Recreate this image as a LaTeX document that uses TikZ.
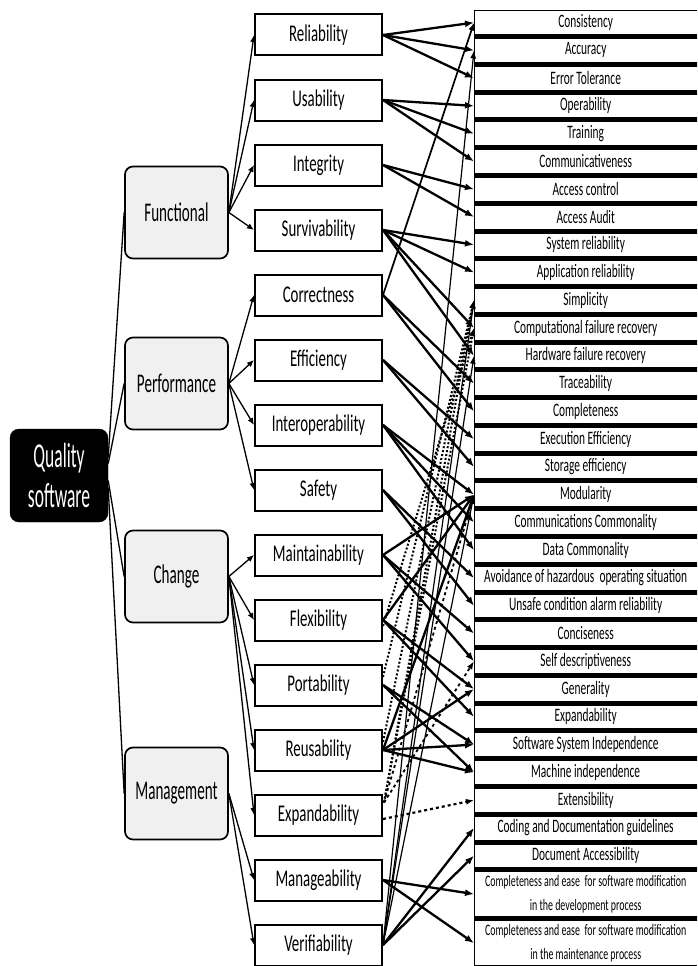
\documentclass[tikz,border=0pt]{standalone}
\usepackage{fontspec}
\setmainfont{Carlito}
\newfontfamily\critfont[FakeStretch=0.6]{Carlito}
\newfontfamily\twofont[FakeStretch=0.62]{Carlito}
\newfontfamily\facfont[FakeStretch=0.62]{Carlito}
\newfontfamily\catfont[FakeStretch=0.56]{Carlito}
\newfontfamily\qsfont[FakeStretch=0.5]{Carlito}
\usetikzlibrary{arrows.meta}

\tikzset{
  qsbox/.style={draw=black, fill=black, text=white, rounded corners=9pt,
    minimum width=98pt, minimum height=93pt, align=center,
    font=\qsfont\fontsize{35}{40}\selectfont},
  catbox/.style={draw=black, line width=1.7pt, fill=black!6, rounded corners=8pt,
    minimum width=103pt, minimum height=92pt,
    font=\catfont\fontsize{27}{29}\selectfont},
  facbox/.style={draw=black, line width=2pt, fill=white,
    minimum width=127pt, minimum height=41pt,
    font=\facfont\fontsize{24}{26}\selectfont},
  critcell/.style={anchor=north west, minimum width=223pt, inner sep=0pt,
    align=center, font=\critfont\fontsize{19}{20}\selectfont},
  twoline/.style={font=\twofont\fontsize{16}{24}\selectfont},
  link/.style={line width=1.3pt},
  feed/.style={line width=1.3pt, -{Latex[length=7pt,width=6pt]}},
  rel/.style={line width=2.3pt, -{Latex[length=9pt,width=7pt]}},
  midrel/.style={line width=1.7pt, -{Latex[length=8pt,width=6pt]}},
  thinrel/.style={line width=1.2pt, -{Latex[length=8pt,width=6pt]}},
  dotrel/.style={line width=2pt, dotted, -{Latex[length=8pt,width=6pt]}},
  dashrel/.style={line width=1.8pt, dashed, -{Latex[length=8pt,width=6pt]}},
}

\begin{document}
\begin{tikzpicture}[x=1pt,y=-1pt]
\clip (0,0) rectangle (697,966);
\fill[white] (0,0) rectangle (697,966);

% ---------- criteria column ----------
\foreach \k/\txt in {0/Consistency,1/Accuracy,2/Error Tolerance,3/Operability,
  4/Training,5/Communicativeness,6/Access control,7/Access Audit,
  8/System reliability,9/Application reliability,10/Simplicity,
  11/Computational failure recovery,12/Hardware failure recovery,
  13/Traceability,14/Completeness,15/Execution Efficiency,16/Storage efficiency,
  17/Modularity,18/Communications Commonality,19/Data Commonality,
  20/Avoidance of hazardous\ \ operating situation,21/Unsafe condition alarm reliability,
  22/Conciseness,23/Self descriptiveness,24/Generality,25/Expandability,
  26/Software System Independence,27/Machine independence,28/Extensibility,
  29/Coding and Documentation guidelines,30/Document Accessibility}{
  \node[critcell, minimum height=22.77pt] (c\k) at (474,{11+27.77*\k}) {\txt};
  \fill (c\k.south west) rectangle ++(230,5);
}
\node[critcell, twoline, minimum height=44pt] (c31) at (474,871.9)
  {Completeness and ease\ \ for software modification\\in the development process};
\fill (c31.south west) rectangle ++(230,5);
\node[critcell, twoline, minimum height=44pt] (c32) at (474,920.9)
  {Completeness and ease\ \ for software modification\\in the maintenance process};
\draw[line width=1pt] (c0.north east) -- (c0.north west) -- (c32.south west) -- (c32.south east);

% ---------- root and categories ----------
\node[qsbox] (qs) at (59,475.5) {Quality\\software};
\node[catbox] (fun) at (176.5,212.5) {Functional};
\node[catbox] (per) at (176.5,383.5) {Performance};
\node[catbox] (cha) at (176.5,576.5) {Change};
\node[catbox] (mgt) at (176.5,793.5) {Management};

% ---------- factors ----------
\foreach \n/\txt [count=\i from 0] in {rel/Reliability,usa/Usability,int/Integrity,
  sur/Survivability,cor/Correctness,eff/Efficiency,ior/Interoperability,saf/Safety,
  mai/Maintainability,fle/Flexibility,por/Portability,reu/Reusability,
  exp/Expandability,man/Manageability,ver/Verifiability}{
  \node[facbox] (\n) at (318.5,{35+65*\i}) {\txt};
}

% ---------- root to categories ----------
\draw[link] ([yshift=18pt]qs.east) -- (fun.west);
\draw[link] ([yshift=12pt]qs.east) -- (per.west);
\draw[link] ([yshift=-5pt]qs.east) -- (cha.west);
\draw[link] ([yshift=-12pt]qs.east) -- (mgt.west);

% ---------- categories to factors ----------
\foreach \c/\fs in {fun/{rel,usa,int,sur},per/{cor,eff,ior,saf},
  cha/{mai,fle,por,reu,exp},mgt/{man,ver}}{
  \foreach \f in \fs { \draw[feed] (\c.east) -- (\f.west); }
}

% ---------- factors to criteria ----------
\foreach \f/\cs in {rel/{0,1,2},usa/{3,4,5},int/{6,7},sur/{8,9,11,12},
  cor/{13,14},eff/{15,16},ior/{17,18,19},saf/{20,21},
  mai/{17,22,23},fle/{17,24,25},por/{26,27},reu/{17,24,26,27},man/{31,32},ver/{29,30}}{
  \foreach \c in \cs { \draw[rel] (\f.east) -- (c\c.west); }
}
\draw[midrel] (cor.east) -- (c0.west);
\foreach \c in {1,10,12,17} { \draw[thinrel] (ver.east) -- (c\c.west); }

% dotted links gathering on the simplicity / recovery rows
\draw[dotrel] ([yshift=-6pt]fle.east) -- (c11.west);
\draw[dotrel] ([yshift=8pt]por.east) -- (c10.west);
\draw[dotrel] ([yshift=8pt]reu.east) -- (c10.west);
\coordinate (expup) at ([xshift=1pt,yshift=-9pt]exp.north east);
\foreach \c in {10,11} { \draw[dotrel] (expup) -- (c\c.west); }

% dashed links of expandability
\foreach \c in {17,23} { \draw[dashrel] (expup) -- (c\c.west); }
\draw[dashrel, line width=2.2pt] ([yshift=-4pt]exp.east) -- (c28.west);
\end{tikzpicture}
\end{document}
